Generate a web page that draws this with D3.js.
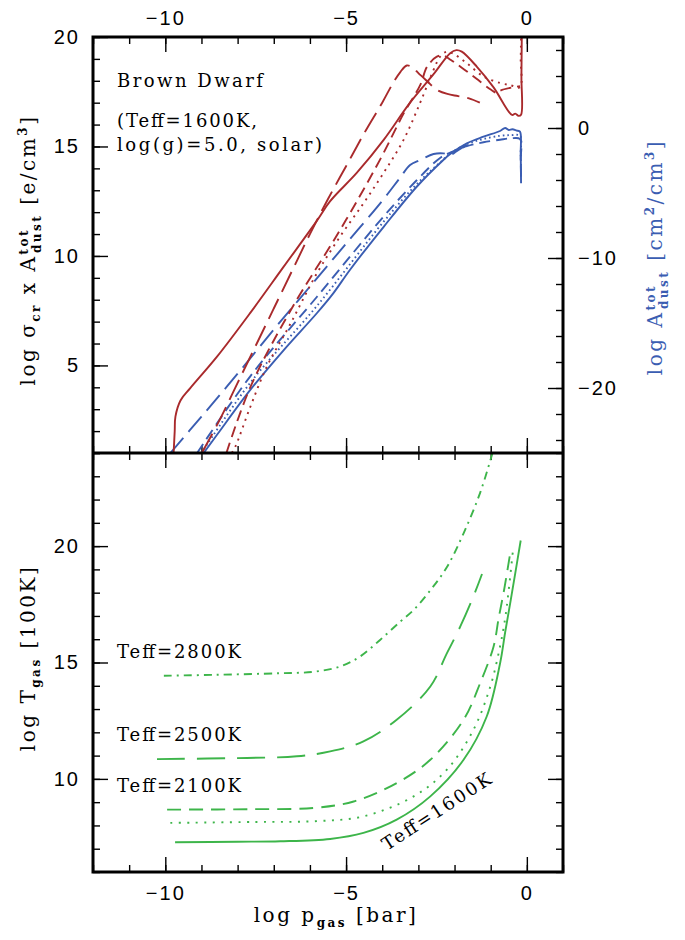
<!DOCTYPE html>
<html>
<head>
<meta charset="utf-8">
<script src="https://cdn.jsdelivr.net/npm/d3@7"></script>
<style>
body{margin:0;background:#fff}
text{font-family:"DejaVu Serif",serif;fill:#000}
.tick text{font-family:"Liberation Sans",sans-serif;font-size:20px;letter-spacing:2px}
</style>
</head>
<body>
<svg id="chart" width="685" height="940"></svg>
<script>
// x of every curve is log p_gas [bar]
// top panel, red: log sigma_cr x A_dust (left axis)
var redSolid = [[-9.77,1.0],[-9.74,2.0],[-9.72,2.66],[-9.58,3.4],[-9.31,3.96],[-8.57,5.4],[-7.65,7.4],[-6.73,9.5],[-5.81,11.6],[-5.44,12.5],[-4.70,13.8],[-3.96,15.3],[-3.23,17.0],[-2.58,18.3],[-2.12,19.26],[-1.95,19.4],[-1.80,19.33],[-1.38,18.64],[-0.92,17.7],[-0.41,16.44],[-0.32,16.5],[-0.23,16.4],[-0.16,16.45],[-0.15,18.2],[-0.14,20]];
var redLong = [[-8.99,1],[-8.5,2.5],[-8.0,4.2],[-7.5,5.9],[-7.0,7.6],[-6.5,9.3],[-6.0,11.0],[-5.5,12.6],[-5.0,14.1],[-4.5,15.6],[-4.0,17.0],[-3.7,17.9],[-3.5,18.4],[-3.32,18.7],[-3.15,18.6],[-3.0,18.35],[-2.77,18.0],[-2.5,17.6],[-2.2,17.4],[-1.9,17.3],[-1.6,17.2],[-1.3,17.0]];
var redDash = [[-8.31,1],[-7.65,4.0],[-6.54,7.5],[-5.16,11.2],[-4.06,14.4],[-3.41,16.5],[-2.95,17.8],[-2.76,18.64],[-2.49,19.1],[-2.3,19.15],[-2.1,18.95],[-1.8,18.6],[-1.4,18.1],[-1.0,17.6],[-0.83,17.45],[-0.74,17.55],[-0.4,17.7],[-0.19,17.75]];
var redDot = [[-8.16,1],[-8.06,1.3],[-7.65,3.1],[-7.19,4.95],[-6.54,6.9],[-5.81,9.2],[-5.16,10.9],[-4.52,12.4],[-3.96,13.8],[-3.41,15.3],[-2.95,17.0],[-2.58,18.5],[-2.40,19.1],[-2.22,19.33],[-2.0,19.2],[-1.66,18.8],[-1.2,18.2],[-0.74,17.9],[-0.46,17.8],[-0.19,17.7],[-0.17,19],[-0.16,20]];
// top panel, blue: log A_dust (right axis)
var blueSolid = [[-8.94,-25],[-8.57,-23.6],[-7.65,-20.15],[-6.73,-17.1],[-5.81,-14.25],[-5.35,-12.7],[-4.89,-10.9],[-3.96,-7.6],[-3.04,-4.5],[-2.31,-2.46],[-2.12,-2.0],[-1.66,-1.18],[-1.2,-0.67],[-0.74,-0.23],[-0.6,0.0],[-0.5,-0.15],[-0.4,-0.1],[-0.28,-0.2],[-0.19,-0.28],[-0.17,-2],[-0.16,-4.25]];
var blueLong = [[-9.86,-25],[-9,-22.2],[-8,-18.9],[-7,-15.5],[-6,-12.2],[-5,-8.9],[-4,-5.6],[-3.5,-3.8],[-3.23,-2.85],[-2.95,-2.46],[-2.58,-2.0],[-2.31,-1.95],[-2.12,-2.08],[-1.9,-1.7],[-1.66,-1.3]];
var blueDash = [[-9.12,-25],[-7.65,-19.1],[-5.81,-13.0],[-3.96,-6.8],[-3.04,-4.0],[-2.4,-2.3],[-2.12,-1.9],[-1.66,-1.4],[-1.2,-1.1],[-0.74,-0.9],[-0.45,-0.8],[-0.19,-0.85],[-0.17,-2.5],[-0.16,-4]];
var blueDot = [[-9.0,-25],[-7.65,-19.6],[-5.81,-13.7],[-3.96,-7.2],[-3.04,-4.3],[-2.3,-2.4],[-2.12,-1.95],[-1.66,-1.25],[-1.2,-0.85],[-0.74,-0.6],[-0.45,-0.55],[-0.19,-0.6],[-0.17,-2],[-0.16,-3.5]];
// bottom panel, green: log T_gas
var green1600 = [[-9.73,7.28],[-8,7.3],[-6.82,7.32],[-5.44,7.42],[-4.52,7.68],[-3.6,8.25],[-2.67,9.25],[-1.75,10.82],[-1.11,12.68],[-0.74,14.97],[-0.6,16.3],[-0.46,17.55],[-0.32,18.84],[-0.17,20.24]];
var green1600b = [[-9.86,8.11],[-7.5,8.15],[-5.9,8.18],[-4.52,8.39],[-3.13,9.25],[-2.21,10.4],[-1.48,12.1],[-1.01,13.97],[-0.74,15.7],[-0.6,16.9],[-0.51,18.0],[-0.39,19.73]];
var green2100 = [[-9.95,8.68],[-7.5,8.7],[-5.9,8.75],[-4.79,9.03],[-3.6,9.82],[-2.67,10.82],[-1.75,12.54],[-1.29,14.12],[-0.92,15.69],[-0.78,16.9],[-0.62,18.2],[-0.46,19.7]];
var green2500 = [[-10.23,10.85],[-7.74,10.9],[-6.36,10.97],[-5.44,11.18],[-4.52,11.61],[-3.6,12.54],[-2.67,13.97],[-2.21,15.4],[-1.84,16.55],[-1.48,17.83],[-1.24,18.8]];
var green2800 = [[-10.04,14.43],[-8.66,14.47],[-6.82,14.54],[-5.9,14.6],[-5.16,14.83],[-4.61,15.26],[-4.06,15.97],[-3.5,16.76],[-3.13,17.26],[-2.67,18.1],[-2.21,19.1],[-1.75,20.55],[-1.29,22.3],[-0.95,24]];

var xMinor = d3.range(-12, 2);
var xMajor = [-10, -5, 0];
var yTopMinor = d3.range(1, 21);
var yTopMajor = [5, 10, 15, 20];
var yRightMinor = d3.range(-24, 8, 2);
var yRightMajor = [-20, -10, 0];
var yBotMinor = d3.range(6, 25);
var yBotMajor = [10, 15, 20];

var red = "#a92a2c", blue = "#3a5db2", green = "#3db54a";

//plot frame in px (names avoid window.top)
var pLeft = 93, pRight = 563, pTop = 37, pMid = 453, pBottom = 872;
var svg = d3.select("#chart");

var x = d3.scaleLinear().domain([-12, 1]).range([pLeft, pRight]);
var yTop = d3.scaleLinear().domain([1, 20]).range([pMid, pTop]);
var yRight = d3.scaleLinear().domain([-25, 7]).range([pMid, pTop]);
var yBot = d3.scaleLinear().domain([6, 24]).range([pBottom, pMid]);

svg.append("clipPath").attr("id", "clipTop").append("rect")
    .attr("x", pLeft).attr("y", pTop).attr("width", pRight - pLeft).attr("height", pMid - pTop);
svg.append("clipPath").attr("id", "clipBot").append("rect")
    .attr("x", pLeft).attr("y", pMid).attr("width", pRight - pLeft).attr("height", pBottom - pMid);

//Draws minor + major inward ticks, labels only on the major ones
function drawAxis(axisFn, scale, tx, ty, minor, major, labels, pad){
    var g = svg.append("g").attr("transform", "translate(" + tx + "," + ty + ")");
    g.append("g").call(axisFn(scale).tickValues(minor).tickSize(-7).tickFormat(""));
    g.append("g").call(axisFn(scale).tickValues(major).tickSize(-15).tickPadding(pad)
        .tickFormat(labels ? d3.format("d") : ""));
    g.selectAll(".domain").remove();
    g.selectAll(".tick line").attr("stroke", "#000").attr("stroke-width", 1.4);
}

drawAxis(d3.axisTop, x, 0, pTop, xMinor, xMajor, true, 12);
drawAxis(d3.axisBottom, x, 0, pMid, xMinor, xMajor, false, 0);
drawAxis(d3.axisTop, x, 0, pMid, xMinor, xMajor, false, 0);
drawAxis(d3.axisBottom, x, 0, pBottom, xMinor, xMajor, true, 14);
drawAxis(d3.axisLeft, yTop, pLeft, 0, yTopMinor, yTopMajor, true, 13);
drawAxis(d3.axisRight, yRight, pRight, 0, yRightMinor, yRightMajor, true, 15);
drawAxis(d3.axisLeft, yBot, pLeft, 0, yBotMinor, yBotMajor, true, 13);
drawAxis(d3.axisRight, yBot, pRight, 0, yBotMinor, yBotMajor, false, 0);

function curve(data, yScale, color, dash, clip){
    var line = d3.line()
        .x(function(d){ return x(d[0]); })
        .y(function(d){ return yScale(d[1]); })
        .curve(d3.curveCatmullRom.alpha(0.5));
    svg.append("path")
        .attr("d", line(data))
        .attr("fill", "none")
        .attr("stroke", color)
        .attr("stroke-width", 1.9)
        .attr("stroke-dasharray", dash)
        .attr("clip-path", "url(#" + clip + ")");
}

curve(blueLong, yRight, blue, "20,8", "clipTop");
curve(blueDash, yRight, blue, "11,6", "clipTop");
curve(blueDot, yRight, blue, "1.6,3", "clipTop");
curve(blueSolid, yRight, blue, null, "clipTop");
curve(redLong, yTop, red, "22,8", "clipTop");
curve(redDash, yTop, red, "11,6", "clipTop");
curve(redDot, yTop, red, "2,5", "clipTop");
curve(redSolid, yTop, red, null, "clipTop");

curve(green2800, yBot, green, "8,5,2,5", "clipBot");
curve(green2500, yBot, green, "28,12", "clipBot");
curve(green2100, yBot, green, "14,8", "clipBot");
curve(green1600b, yBot, green, "2,6.5", "clipBot");
curve(green1600, yBot, green, null, "clipBot");

// frame
svg.append("rect").attr("x", pLeft).attr("y", pTop).attr("width", pRight - pLeft).attr("height", pBottom - pTop)
    .attr("fill", "none").attr("stroke", "#000").attr("stroke-width", 3);
svg.append("line").attr("x1", pLeft).attr("x2", pRight).attr("y1", pMid).attr("y2", pMid)
    .attr("stroke", "#000").attr("stroke-width", 3);

// annotations
function note(txt, px, py, len){
    svg.append("text").attr("x", px).attr("y", py).attr("font-size", 18)
        .attr("textLength", len).attr("lengthAdjust", "spacing").text(txt);
}
note("Brown Dwarf", 117, 87, 146);
note("(Teff=1600K,", 117, 127, 140);
note("log(g)=5.0, solar)", 117, 151, 205);
note("Teff=2800K", 117, 658, 124);
note("Teff=2500K", 117, 741, 124);
note("Teff=2100K", 117, 792, 124);
svg.append("text").attr("transform", "translate(387,851) rotate(-33)").attr("font-size", 18)
    .attr("textLength", 126).attr("lengthAdjust", "spacing").text("Teff=1600K");

// axis titles
function title(parts, transform, color){
    var t = svg.append("text").attr("transform", transform).attr("text-anchor", "middle")
        .attr("font-size", 20).style("letter-spacing", "2.5px").style("fill", color);
    parts.forEach(function(p){
        var s = t.append("tspan").text(p.t).style("fill", color);
        if(p.sub){ s.attr("font-size", 12).attr("font-weight", "bold").attr("dy", 5); }
        if(p.sup){ s.attr("font-size", 12).attr("font-weight", "bold").attr("dy", -8); }
        if(p.dy){ s.attr("dy", p.dy); }
        if(p.dx){ s.attr("dx", p.dx); }
    });
}
title([{t:"log σ"},{t:"cr",sub:1},{t:" x A",dy:-5},{t:"tot",sup:1,dy:-7},{t:"dust",sub:1,dx:-25,dy:13},{t:" [e/cm",dy:-6},{t:"3",sup:1,dy:-8},{t:"]",dy:8}],
    "translate(35,250) rotate(-90)", "#000");
title([{t:"log A"},{t:"tot",sup:1,dy:-7},{t:"dust",sub:1,dx:-25,dy:13},{t:" [cm",dy:-6},{t:"2",sup:1,dy:-8},{t:"/cm",dy:8},{t:"3",sup:1,dy:-8},{t:"]",dy:8}],
    "translate(662,257) rotate(-90)", blue);
title([{t:"log T"},{t:"gas",sub:1},{t:" [100K]",dy:-5}],
    "translate(35,658) rotate(-90)", "#000");
title([{t:"log p"},{t:"gas",sub:1},{t:" [bar]",dy:-5}],
    "translate(336,922)", "#000");
</script>
</body>
</html>
